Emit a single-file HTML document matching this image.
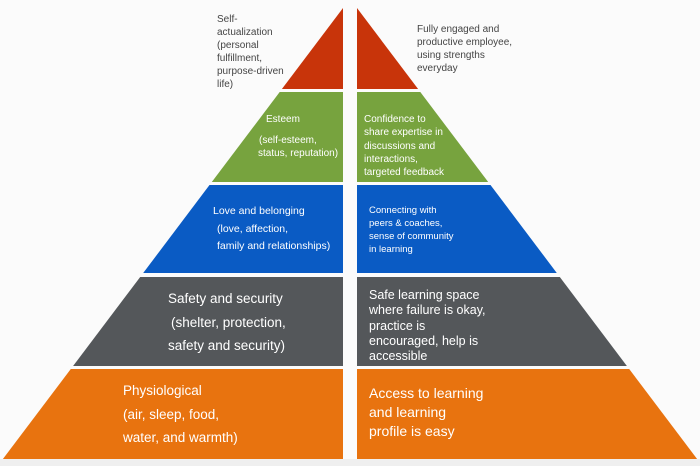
<!DOCTYPE html>
<html><head><meta charset="utf-8"><style>
html,body{margin:0;padding:0;background:#fafafa;}
svg{display:block}
text{font-family:"Liberation Sans",sans-serif;}
</style></head><body>
<svg width="700" height="466" viewBox="0 0 700 466" xmlns="http://www.w3.org/2000/svg">
<rect width="700" height="466" fill="#fbfbfb"/>
<rect y="459" width="700" height="7" fill="#efefef"/>
<!-- left -->
<polygon points="343,8 343,89 281.9,89" fill="#c8340a"/>
<polygon points="279.7,92 343,92 343,182 211.8,182" fill="#77a33e"/>
<polygon points="209.5,185 343,185 343,273 143.2,273" fill="#0a5bc4"/>
<polygon points="140.2,277 343,277 343,366 73.1,366" fill="#54575a"/>
<polygon points="70.8,369 343,369 343,459 2.9,459" fill="#e8730f"/>
<!-- right -->
<polygon points="357,8 357,89 418.1,89" fill="#c8340a"/>
<polygon points="357,92 420.3,92 488.2,182 357,182" fill="#77a33e"/>
<polygon points="357,185 490.5,185 556.8,273 357,273" fill="#0a5bc4"/>
<polygon points="357,277 559.8,277 626.9,366 357,366" fill="#54575a"/>
<polygon points="357,369 629.2,369 697.1,459 357,459" fill="#e8730f"/>

<g fill="#444" font-size="10">
<text x="217" y="22">Self-</text>
<text x="217" y="35">actualization</text>
<text x="217" y="48">(personal</text>
<text x="217" y="61">fulfillment,</text>
<text x="217" y="74"> purpose-driven</text>
<text x="217" y="87">life)</text>
<text x="417" y="32">Fully engaged and</text>
<text x="417" y="45">productive employee,</text>
<text x="417" y="58">using strengths</text>
<text x="417" y="71">everyday</text>
</g>
<g fill="#fff" font-size="10">
<text x="266" y="122">Esteem</text>
<text x="259" y="143">(self-esteem,</text>
<text x="258" y="156">status, reputation)</text>
<text x="364" y="122">Confidence to</text>
<text x="364" y="135">share expertise in</text>
<text x="364" y="149">discussions and</text>
<text x="364" y="162">interactions,</text>
<text x="364" y="175">targeted feedback</text>
</g>
<g fill="#fff" font-size="10.5">
<text x="213" y="214">Love and belonging</text>
<text x="217" y="232">(love, affection,</text>
<text x="217" y="249">family and relationships)</text>
</g>
<g fill="#fff" font-size="9.5">
<text x="369" y="213">Connecting with</text>
<text x="369" y="226">peers &amp; coaches,</text>
<text x="369" y="239">sense of community</text>
<text x="369" y="252">in learning</text>
</g>
<g fill="#fff" font-size="13.5">
<text x="168" y="303">Safety and security</text>
<text x="171" y="327">(shelter, protection,</text>
<text x="168" y="350">safety and security)</text>
<text x="123" y="395">Physiological</text>
<text x="123" y="419">(air, sleep, food,</text>
<text x="123" y="442">water, and warmth)</text>
</g>
<g fill="#fff" font-size="12.5">
<text x="369" y="299">Safe learning space</text>
<text x="369" y="314">where failure is okay,</text>
<text x="369" y="330">practice is</text>
<text x="369" y="345">encouraged, help is</text>
<text x="369" y="360">accessible</text>
</g>
<g fill="#fff" font-size="14">
<text x="369" y="398">Access to learning</text>
<text x="369" y="417">and learning</text>
<text x="369" y="436">profile is easy</text>
</g>
</svg>
</body></html>
